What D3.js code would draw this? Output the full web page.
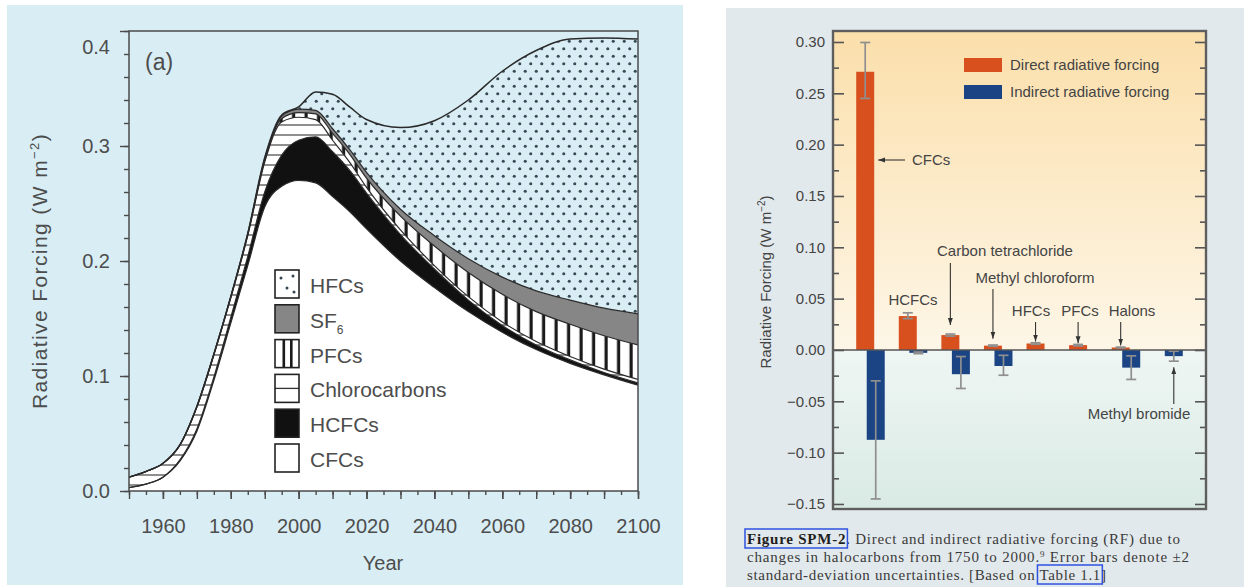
<!DOCTYPE html>
<html>
<head>
<meta charset="utf-8">
<script src="https://cdn.jsdelivr.net/npm/d3@7"></script>
<style>
  body { margin: 0; background: #ffffff; }
  svg { display: block; }
</style>
</head>
<body>
<svg id="chart" width="1244" height="587"></svg>
<script>
// ---------------- Panel (a): stacked radiative forcing by halocarbon group (W m-2) ----------------
const years         = [1950, 1955, 1960, 1965, 1970, 1975, 1980, 1985, 1990, 1995, 2000, 2005, 2010, 2015, 2020, 2030, 2040, 2050, 2060, 2070, 2080, 2090, 2100];
const cfcs          = [0.003, 0.006, 0.012, 0.026, 0.052, 0.096, 0.146, 0.196, 0.247, 0.265, 0.270, 0.268, 0.256, 0.243, 0.228, 0.200, 0.177, 0.156, 0.138, 0.123, 0.111, 0.101, 0.092];
const hcfcs         = [0.000, 0.000, 0.000, 0.001, 0.002, 0.003, 0.005, 0.008, 0.013, 0.027, 0.035, 0.040, 0.039, 0.036, 0.031, 0.023, 0.016, 0.010, 0.006, 0.004, 0.003, 0.002, 0.002];
const chlorocarbons = [0.009, 0.011, 0.012, 0.013, 0.019, 0.019, 0.017, 0.018, 0.026, 0.029, 0.020, 0.015, 0.010, 0.007, 0.005, 0.004, 0.003, 0.003, 0.003, 0.003, 0.003, 0.003, 0.003];
const pfcs          = [0.000, 0.000, 0.000, 0.000, 0.0005, 0.001, 0.001, 0.001, 0.002, 0.003, 0.004, 0.005, 0.006, 0.007, 0.008, 0.012, 0.017, 0.021, 0.024, 0.026, 0.028, 0.029, 0.030];
const sf6           = [0.000, 0.000, 0.000, 0.000, 0.000, 0.000, 0.000, 0.001, 0.001, 0.002, 0.003, 0.003, 0.004, 0.004, 0.005, 0.006, 0.009, 0.012, 0.015, 0.018, 0.021, 0.024, 0.027];
const hfcs          = [0.000, 0.000, 0.000, 0.000, 0.000, 0.000, 0.000, 0.000, 0.001, 0.001, 0.002, 0.016, 0.030, 0.037, 0.046, 0.071, 0.100, 0.138, 0.179, 0.209, 0.227, 0.235, 0.239];
const groupNames    = ["CFCs", "HCFCs", "Chlorocarbons", "PFCs", "SF6", "HFCs"];
const yTicksA       = [0, 0.1, 0.2, 0.3, 0.4];
const xTicksA       = [1960, 1980, 2000, 2020, 2040, 2060, 2080, 2100];

// ---------------- Panel (b): radiative forcing from 1750 to 2000 by species (W m-2) ----------------
const species       = ["CFCs", "HCFCs", "Carbon tetrachloride", "Methyl chloroform", "HFCs", "PFCs", "Halons", "Methyl bromide"];
const directRF      = [0.271, 0.033, 0.0145, 0.0042, 0.0063, 0.0047, 0.0024, 0];
const directLow     = [0.245, 0.0305, 0.0135, 0.0036, 0.0055, 0.0040, 0.0020, 0];
const directHigh    = [0.2995, 0.0362, 0.0155, 0.0048, 0.0070, 0.0054, 0.0028, 0];
const indirectRF    = [-0.0875, -0.0028, -0.0236, -0.0156, 0, 0, -0.0172, -0.0060];
const indirectLow   = [-0.1451, -0.0036, -0.0375, -0.0246, 0, 0, -0.0287, -0.0109];
const indirectHigh  = [-0.0301, -0.0020, -0.0064, -0.0052, 0, 0, -0.0057, -0.0012];
const yTicksB       = [-0.15, -0.10, -0.05, 0, 0.05, 0.10, 0.15, 0.20, 0.25, 0.30];
const legendB       = ["Direct radiative forcing", "Indirect radiative forcing"];

const SANS = "'Liberation Sans', Arial, Helvetica, sans-serif";
const SERIF = "'Liberation Serif', 'Times New Roman', serif";
const svg = d3.select("#chart");
const defs = svg.append("defs");

// Panel backgrounds
const bgA = "#d9edf5";
svg.append("rect").attr("x", 7).attr("y", 5).attr("width", 676).attr("height", 580).attr("fill", bgA);
svg.append("rect").attr("x", 726).attr("y", 8).attr("width", 518).attr("height", 579).attr("fill", "#e2e9ec");

// Fill patterns
const pDots = defs.append("pattern").attr("id", "dots").attr("patternUnits", "userSpaceOnUse")
  .attr("width", 11).attr("height", 15);
pDots.append("rect").attr("width", 11).attr("height", 15).attr("fill", bgA);
pDots.append("circle").attr("cx", 2.75).attr("cy", 3.75).attr("r", 1.55).attr("fill", "#3a4a54");
pDots.append("circle").attr("cx", 8.25).attr("cy", 11.25).attr("r", 1.55).attr("fill", "#3a4a54");

const pH = defs.append("pattern").attr("id", "hatchH").attr("patternUnits", "userSpaceOnUse")
  .attr("width", 10).attr("height", 10);
pH.append("rect").attr("width", 10).attr("height", 10).attr("fill", "#fff");
pH.append("line").attr("x1", 0).attr("x2", 10).attr("y1", 5).attr("y2", 5).attr("stroke", "#444").attr("stroke-width", 1.2);

const pV = defs.append("pattern").attr("id", "hatchV").attr("patternUnits", "userSpaceOnUse")
  .attr("width", 12.5).attr("height", 12);
pV.append("rect").attr("width", 12.5).attr("height", 12).attr("fill", "#fff");
pV.append("rect").attr("x", 4.5).attr("width", 3.2).attr("height", 12).attr("fill", "#1a1a1a");

// ================= Panel (a) =================
const xA = d3.scaleLinear().domain([1950, 2100]).range([129, 638]);
const yA = d3.scaleLinear().domain([0, 0.4]).range([491, 31]);

const seriesA = [cfcs, hcfcs, chlorocarbons, pfcs, sf6, hfcs];
const rowsA = years.map((yr, i) => {
  const r = { year: yr };
  groupNames.forEach((k, j) => { r[k] = seriesA[j][i]; });
  return r;
});
const stackedA = d3.stack().keys(groupNames)(rowsA);
const fillsA = { CFCs: "#ffffff", HCFCs: "#111111", Chlorocarbons: "url(#hatchH)", PFCs: "url(#hatchV)", SF6: "#868686", HFCs: "url(#dots)" };

defs.append("clipPath").attr("id", "clipA").append("rect")
  .attr("x", 129).attr("y", 31).attr("width", 509).attr("height", 460);

const areaA = d3.area().curve(d3.curveMonotoneX)
  .x(d => xA(d.data.year)).y0(d => yA(d[0])).y1(d => yA(d[1]));
const topLineA = d3.line().curve(d3.curveMonotoneX)
  .x(d => xA(d.data.year)).y(d => yA(d[1]));

const gA = svg.append("g").attr("clip-path", "url(#clipA)");
gA.selectAll("path.layer").data(stackedA).join("path")
  .attr("class", "layer").attr("d", areaA).attr("fill", d => fillsA[d.key]);
gA.selectAll("path.edge").data(stackedA).join("path")
  .attr("class", "edge").attr("d", topLineA).attr("fill", "none")
  .attr("stroke", "#2a2a2a").attr("stroke-width", d => d.key === "HFCs" ? 1.5 : 1.2);

// Frame
svg.append("rect").attr("x", 129).attr("y", 31).attr("width", 509).attr("height", 460)
  .attr("fill", "none").attr("stroke", "#4a4a4a").attr("stroke-width", 1.5);

// Axes
function styleAxis(g, size) {
  g.select(".domain").remove();
  g.selectAll("line").attr("stroke", "#4a4a4a").attr("stroke-width", 1.4);
  g.selectAll("text").attr("fill", "#4d4d4d").style("font-family", SANS).style("font-size", size + "px");
}
svg.append("g").attr("transform", "translate(129,0)")
  .call(d3.axisLeft(yA).tickValues(d3.range(0, 0.401, 0.02)).tickSize(5).tickFormat(""))
  .call(g => styleAxis(g, 20));
svg.append("g").attr("transform", "translate(129,0)")
  .call(d3.axisLeft(yA).tickValues(yTicksA).tickSize(9).tickPadding(10).tickFormat(d3.format(".1f")))
  .call(g => styleAxis(g, 20))
  .call(g => g.selectAll(".tick").filter(d => d === 0.4).select("text").attr("dy", "1.1em"));

svg.append("g").attr("transform", "translate(0,491)")
  .call(d3.axisBottom(xA).tickValues(d3.range(1950, 2101, 5)).tickSize(4).tickFormat(""))
  .call(g => styleAxis(g, 20));
svg.append("g").attr("transform", "translate(0,491)")
  .call(d3.axisBottom(xA).tickValues(d3.range(1950, 2101, 10)).tickSize(8).tickFormat(""))
  .call(g => styleAxis(g, 20));
svg.append("g").attr("transform", "translate(0,491)")
  .call(d3.axisBottom(xA).tickValues(xTicksA).tickSize(8).tickPadding(20).tickFormat(d3.format("d")))
  .call(g => styleAxis(g, 20));

// Axis titles
svg.append("text").attr("x", 383).attr("y", 570).attr("text-anchor", "middle")
  .attr("fill", "#4d4d4d").style("font-family", SANS).style("font-size", "20px").text("Year");
const yTitleA = svg.append("text").attr("transform", "translate(47,271) rotate(-90)")
  .attr("text-anchor", "middle").attr("fill", "#4d4d4d")
  .style("font-family", SANS).style("font-size", "21px").style("letter-spacing", "1.4px");
yTitleA.append("tspan").text("Radiative Forcing (W m");
yTitleA.append("tspan").attr("dy", -8).style("font-size", "13px").text("−2");
yTitleA.append("tspan").attr("dy", 8).text(")");

svg.append("text").attr("x", 145).attr("y", 70).attr("fill", "#4d4d4d")
  .style("font-family", SANS).style("font-size", "23px").text("(a)");

// Legend (top entry = top of stack)
const legendA = svg.append("g");
const legendOrder = groupNames.slice().reverse();
legendOrder.forEach((name, i) => {
  const x = 275, y = 270 + i * 34.8, w = 24, h = 28;
  const g = legendA.append("g");
  const fill = name === "HCFCs" ? "#111" : name === "SF6" ? "#868686" : "#fff";
  g.append("rect").attr("x", x).attr("y", y).attr("width", w).attr("height", h).attr("fill", fill);
  if (name === "HFCs") {
    [[x + 6, y + 8], [x + 18, y + 6], [x + 12, y + 18], [x + 19, y + 22]].forEach(p =>
      g.append("circle").attr("cx", p[0]).attr("cy", p[1]).attr("r", 1.5).attr("fill", "#34444e"));
  }
  if (name === "PFCs") {
    [x + 7.5, x + 15].forEach(px =>
      g.append("rect").attr("x", px).attr("y", y).attr("width", 2.6).attr("height", h).attr("fill", "#1a1a1a"));
  }
  if (name === "Chlorocarbons") {
    g.append("line").attr("x1", x).attr("x2", x + w).attr("y1", y + h / 2).attr("y2", y + h / 2)
      .attr("stroke", "#333").attr("stroke-width", 1.3);
  }
  g.append("rect").attr("x", x).attr("y", y).attr("width", w).attr("height", h)
    .attr("fill", "none").attr("stroke", "#222").attr("stroke-width", 1.6);
  const t = g.append("text").attr("x", 310).attr("y", y + 23).attr("fill", "#4d4d4d")
    .style("font-family", SANS).style("font-size", "21px");
  const m = name.match(/^([A-Za-z]+)(\d+)$/);
  if (m) {
    t.append("tspan").text(m[1]);
    t.append("tspan").attr("dy", 6).style("font-size", "12px").text(m[2]);
  } else {
    t.text(name);
  }
});

// ================= Panel (b) =================
const xB = d3.scaleBand().domain(species).range([833, 1206]).paddingInner(0.33).paddingOuter(0.545);
const yB = d3.scaleLinear().domain([-0.1549, 0.3107]).range([509, 31]);
const bw = 18;

const gradUp = defs.append("linearGradient").attr("id", "bgUp").attr("x1", 0).attr("x2", 0).attr("y1", 0).attr("y2", 1);
gradUp.append("stop").attr("offset", "0%").attr("stop-color", "#fbdfab");
gradUp.append("stop").attr("offset", "100%").attr("stop-color", "#fdf6e7");
const gradDn = defs.append("linearGradient").attr("id", "bgDn").attr("x1", 0).attr("x2", 0).attr("y1", 0).attr("y2", 1);
gradDn.append("stop").attr("offset", "0%").attr("stop-color", "#eff6f4");
gradDn.append("stop").attr("offset", "100%").attr("stop-color", "#d9eae4");

svg.append("rect").attr("x", 833).attr("y", 31).attr("width", 373).attr("height", yB(0) - 31).attr("fill", "url(#bgUp)");
svg.append("rect").attr("x", 833).attr("y", yB(0)).attr("width", 373).attr("height", 509 - yB(0)).attr("fill", "url(#bgDn)");

const barsB = species.map((s, i) => ({
  s, d: directRF[i], dl: directLow[i], dh: directHigh[i],
  n: indirectRF[i], nl: indirectLow[i], nh: indirectHigh[i]
}));

const gB = svg.append("g");
// Direct forcing bars
gB.selectAll("rect.direct").data(barsB.filter(b => b.d > 0)).join("rect")
  .attr("class", "direct")
  .attr("x", b => xB(b.s)).attr("width", bw)
  .attr("y", b => yB(b.d)).attr("height", b => yB(0) - yB(b.d))
  .attr("fill", "#d9501f");
// Indirect forcing bars
gB.selectAll("rect.indirect").data(barsB.filter(b => b.n < 0)).join("rect")
  .attr("class", "indirect")
  .attr("x", b => xB(b.s) + xB.bandwidth() - bw).attr("width", bw)
  .attr("y", yB(0)).attr("height", b => yB(b.n) - yB(0))
  .attr("fill", "#1b4485");

// Error bars
const errs = [];
barsB.forEach(b => {
  if (b.dh > b.dl) errs.push({ cx: xB(b.s) + bw / 2, lo: b.dl, hi: b.dh });
  if (b.nh > b.nl) errs.push({ cx: xB(b.s) + xB.bandwidth() - bw / 2, lo: b.nl, hi: b.nh });
});
const gE = gB.selectAll("g.err").data(errs).join("g").attr("class", "err")
  .attr("stroke", "#8f8f8f").attr("stroke-width", 1.7);
gE.append("line").attr("x1", e => e.cx).attr("x2", e => e.cx).attr("y1", e => yB(e.lo)).attr("y2", e => yB(e.hi));
gE.append("line").attr("x1", e => e.cx - 5).attr("x2", e => e.cx + 5).attr("y1", e => yB(e.lo)).attr("y2", e => yB(e.lo));
gE.append("line").attr("x1", e => e.cx - 5).attr("x2", e => e.cx + 5).attr("y1", e => yB(e.hi)).attr("y2", e => yB(e.hi));

// Zero line
svg.append("line").attr("x1", 833).attr("x2", 1206).attr("y1", yB(0)).attr("y2", yB(0))
  .attr("stroke", "#555").attr("stroke-width", 1.5);

// Frame and ticks (inward on both sides)
function styleAxisB(g) {
  g.select(".domain").remove();
  g.selectAll("line").attr("stroke", "#555").attr("stroke-width", 1.6);
  g.selectAll("text").attr("fill", "#444").style("font-family", SANS).style("font-size", "15px");
}
const minorB = d3.range(-0.125, 0.3, 0.05);
svg.append("g").attr("transform", "translate(833,0)")
  .call(d3.axisLeft(yB).tickValues(minorB).tickSize(-6).tickFormat(""))
  .call(styleAxisB);
svg.append("g").attr("transform", "translate(833,0)")
  .call(d3.axisLeft(yB).tickValues(yTicksB).tickSize(-11).tickPadding(8).tickFormat(d3.format(".2f")))
  .call(styleAxisB);
svg.append("g").attr("transform", "translate(1206,0)")
  .call(d3.axisRight(yB).tickValues(minorB).tickSize(-6).tickFormat(""))
  .call(styleAxisB);
svg.append("g").attr("transform", "translate(1206,0)")
  .call(d3.axisRight(yB).tickValues(yTicksB).tickSize(-11).tickFormat(""))
  .call(styleAxisB);
svg.append("rect").attr("x", 833).attr("y", 31).attr("width", 373).attr("height", 478)
  .attr("fill", "none").attr("stroke", "#5e5e5e").attr("stroke-width", 2.4);

// Y title
const yTitleB = svg.append("text").attr("transform", "translate(771,282) rotate(-90)")
  .attr("text-anchor", "middle").attr("fill", "#444")
  .style("font-family", SANS).style("font-size", "15px");
yTitleB.append("tspan").text("Radiative Forcing (W m");
yTitleB.append("tspan").attr("dy", -6).style("font-size", "10px").text("−2");
yTitleB.append("tspan").attr("dy", 6).text(")");

// Legend
const legColors = ["#d9501f", "#1b4485"];
legendB.forEach((lab, i) => {
  const y = 58 + i * 27;
  svg.append("rect").attr("x", 964).attr("y", y).attr("width", 38).attr("height", 14).attr("fill", legColors[i]);
  svg.append("text").attr("x", 1010).attr("y", y + 12).attr("fill", "#444")
    .style("font-family", SANS).style("font-size", "15px").text(lab);
});

// Species annotations with arrows
const marker = defs.append("marker").attr("id", "arrow").attr("viewBox", "0 0 10 10")
  .attr("refX", 10).attr("refY", 5).attr("markerWidth", 7).attr("markerHeight", 7)
  .attr("orient", "auto-start-reverse").attr("markerUnits", "userSpaceOnUse");
marker.append("path").attr("d", "M0,1.5 L10,5 L0,8.5 Z").attr("fill", "#333");

function label(text, x, y, anchor) {
  svg.append("text").attr("x", x).attr("y", y).attr("text-anchor", anchor || "middle")
    .attr("fill", "#444").style("font-family", SANS).style("font-size", "15px").text(text);
}
function arrow(x1, y1, x2, y2) {
  svg.append("line").attr("x1", x1).attr("y1", y1).attr("x2", x2).attr("y2", y2)
    .attr("stroke", "#333").attr("stroke-width", 1.1).attr("marker-end", "url(#arrow)");
}
const dCenter = s => xB(s) + bw / 2;
const nCenter = s => xB(s) + xB.bandwidth() - bw / 2;

// CFCs: horizontal arrow pointing at the bar
arrow(905, 160, xB("CFCs") + bw + 4, 160);
label("CFCs", 912, 165, "start");
label("HCFCs", 913, 305);
label("Carbon tetrachloride", 1005, 256);
arrow(dCenter("Carbon tetrachloride"), 263, dCenter("Carbon tetrachloride"), yB(directRF[2]) - 10);
label("Methyl chloroform", 1035, 283);
arrow(dCenter("Methyl chloroform"), 289, dCenter("Methyl chloroform"), yB(directRF[3]) - 7);
label("HFCs", 1031, 316);
arrow(dCenter("HFCs"), 322, dCenter("HFCs"), yB(directRF[4]) - 2);
label("PFCs", 1080, 316);
arrow(dCenter("PFCs"), 322, dCenter("PFCs"), yB(directRF[5]) - 2);
label("Halons", 1132, 316);
arrow(dCenter("Halons"), 322, dCenter("Halons"), yB(directRF[6]) - 2);
label("Methyl bromide", 1139, 419);
arrow(nCenter("Methyl bromide"), 404, nCenter("Methyl bromide"), yB(indirectLow[7]) + 6);

// Caption
const captionLines = [
  [{ t: "Figure SPM-2", bold: true, link: true }, { t: ". Direct and indirect radiative forcing (RF) due to" }],
  [{ t: "changes in halocarbons from 1750 to 2000." }, { t: "9", sup: true }, { t: " Error bars denote ±2" }],
  [{ t: "standard-deviation uncertainties. [Based on " }, { t: "Table 1.1", link: true }, { t: "]" }]
];
const captionWidths = [433, 442, 359];
const linkSpans = [];
captionLines.forEach((parts, li) => {
  const baseY = 544 + li * 18;
  const t = svg.append("text").attr("x", 747).attr("y", baseY)
    .attr("textLength", captionWidths[li]).attr("lengthAdjust", "spacing")
    .attr("fill", "#3a3a3a").style("font-family", SERIF).style("font-size", "15px");
  parts.forEach(p => {
    const sp = t.append("tspan").text(p.t);
    if (p.bold) sp.style("font-weight", "bold").attr("fill", "#1e1e1e");
    if (p.sup) sp.attr("baseline-shift", "super").style("font-size", "9px");
    if (p.link) linkSpans.push({ node: sp.node(), baseY });
  });
});
linkSpans.forEach(l => {
  const bb = l.node.getBBox();
  svg.append("rect").attr("x", bb.x - 2).attr("y", l.baseY - 15)
    .attr("width", bb.width + 4).attr("height", 19)
    .attr("fill", "none").attr("stroke", "#2f52e0").attr("stroke-width", 1.5);
});
</script>
</body>
</html>
